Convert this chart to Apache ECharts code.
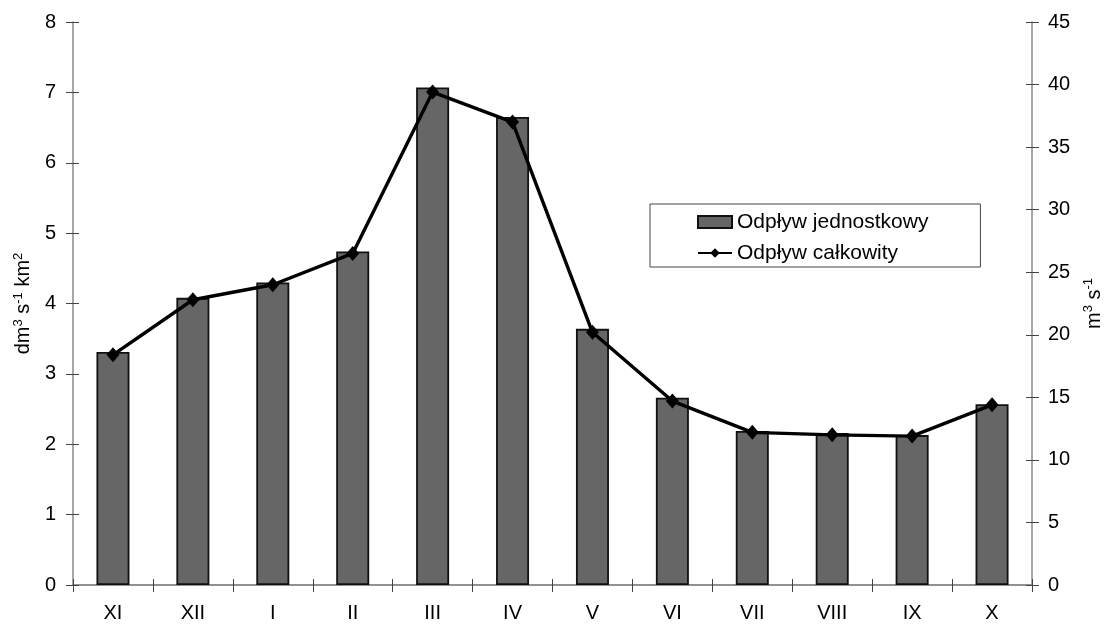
<!DOCTYPE html>
<html><head><meta charset="utf-8">
<script src="https://cdn.jsdelivr.net/npm/echarts@6/dist/echarts.min.js"></script>
<style>html,body{margin:0;padding:0;background:#fff}#c{width:1105px;height:625px}</style>
</head><body><div id="c"></div>
<script>
const categories = ['XI','XII','I','II','III','IV','V','VI','VII','VIII','IX','X'];
const unitRunoff = [3.31,4.08,4.30,4.74,7.07,6.65,3.64,2.66,2.19,2.16,2.13,2.57];
const totalRunoff = [18.4,22.8,24.0,26.5,39.4,37.0,20.2,14.7,12.2,12.0,11.9,14.4];
const seriesNames = ['Odpływ jednostkowy','Odpływ całkowity'];

const FONT = '"Liberation Sans", Arial, sans-serif';
const axisGray = '#8a8a8a';
const tickColor = '#444';
const chart = echarts.init(document.getElementById('c'));
const leftBase = {type:'value', min:0, max:8, interval:1, position:'left'};
const rightBase = {type:'value', min:0, max:45, interval:5, position:'right'};
const nameRich = {rich:{t:{fontFamily:FONT,fontSize:20,color:'#000'},s:{fontFamily:FONT,fontSize:13,color:'#000',verticalAlign:'top',padding:[0,0,11,0]}}};
chart.setOption({
  animation:false,
  backgroundColor:'#fff',
  grid:{left:73, right:73, top:22, bottom:40, containLabel:false, outerBoundsMode:'none'},
  legend:{
    orient:'vertical', left:650, top:204,
    padding:[7,52,3,47], itemGap:9, itemWidth:34, itemHeight:12,
    borderColor:'#444', borderWidth:1, backgroundColor:'#fff',
    textStyle:{fontFamily:FONT, fontSize:21, lineHeight:22, color:'#000'},
    data:[{name:seriesNames[0], icon:'rect'}, {name:seriesNames[1]}]
  },
  xAxis:[{
    type:'category', data:categories, position:'bottom',
    axisLine:{lineStyle:{color:axisGray, width:1.5}},
    axisTick:{show:true, length:7, alignWithLabel:false, lineStyle:{color:tickColor}},
    axisLabel:{fontFamily:FONT, fontSize:20, color:'#000', margin:18}
  },{
    type:'category', data:categories, position:'top',
    axisLine:{lineStyle:{color:axisGray, width:1.5}},
    axisTick:{show:false}, axisLabel:{show:false}
  },{
    type:'category', data:categories, position:'bottom', offset:0,
    axisLine:{show:false},
    axisTick:{show:true, inside:true, length:6, alignWithLabel:false, lineStyle:{color:tickColor}},
    axisLabel:{show:false}
  }],
  yAxis:[
    Object.assign({}, leftBase, {
      name:'{t|dm}{s|3}{t| s}{s|-1}{t| km}{s|2}', nameLocation:'middle', nameRotate:90, nameGap:35,
      nameTextStyle:nameRich,
      axisLine:{show:true, lineStyle:{color:axisGray, width:1.5}},
      axisTick:{show:true, length:7, lineStyle:{color:tickColor}},
      axisLabel:{fontFamily:FONT, fontSize:20, color:'#000', margin:17},
      splitLine:{show:false}
    }),
    Object.assign({}, leftBase, {
      axisLine:{show:false}, axisTick:{show:true, inside:true, length:6, lineStyle:{color:tickColor}},
      axisLabel:{show:false}, splitLine:{show:false}
    }),
    Object.assign({}, rightBase, {
      name:'{t|m}{s|3}{t| s}{s|-1}', nameLocation:'middle', nameRotate:90, nameGap:50,
      nameTextStyle:nameRich,
      axisLine:{show:true, lineStyle:{color:axisGray, width:1.5}},
      axisTick:{show:true, length:7, lineStyle:{color:tickColor}},
      axisLabel:{fontFamily:FONT, fontSize:20, color:'#000', margin:16},
      splitLine:{show:false}
    }),
    Object.assign({}, rightBase, {
      axisLine:{show:false}, axisTick:{show:true, inside:true, length:6, lineStyle:{color:tickColor}},
      axisLabel:{show:false}, splitLine:{show:false}
    })
  ],
  series:[{
    name:seriesNames[0], type:'bar', yAxisIndex:0, data:unitRunoff, barWidth:33,
    itemStyle:{color:'#666666', borderColor:'#111', borderWidth:1.8}
  },{
    name:seriesNames[1], type:'line', yAxisIndex:2, data:totalRunoff,
    symbol:'diamond', symbolSize:[13,15], showSymbol:true,
    lineStyle:{color:'#000', width:3.4}, itemStyle:{color:'#000'}
  }]
});
</script></body></html>
